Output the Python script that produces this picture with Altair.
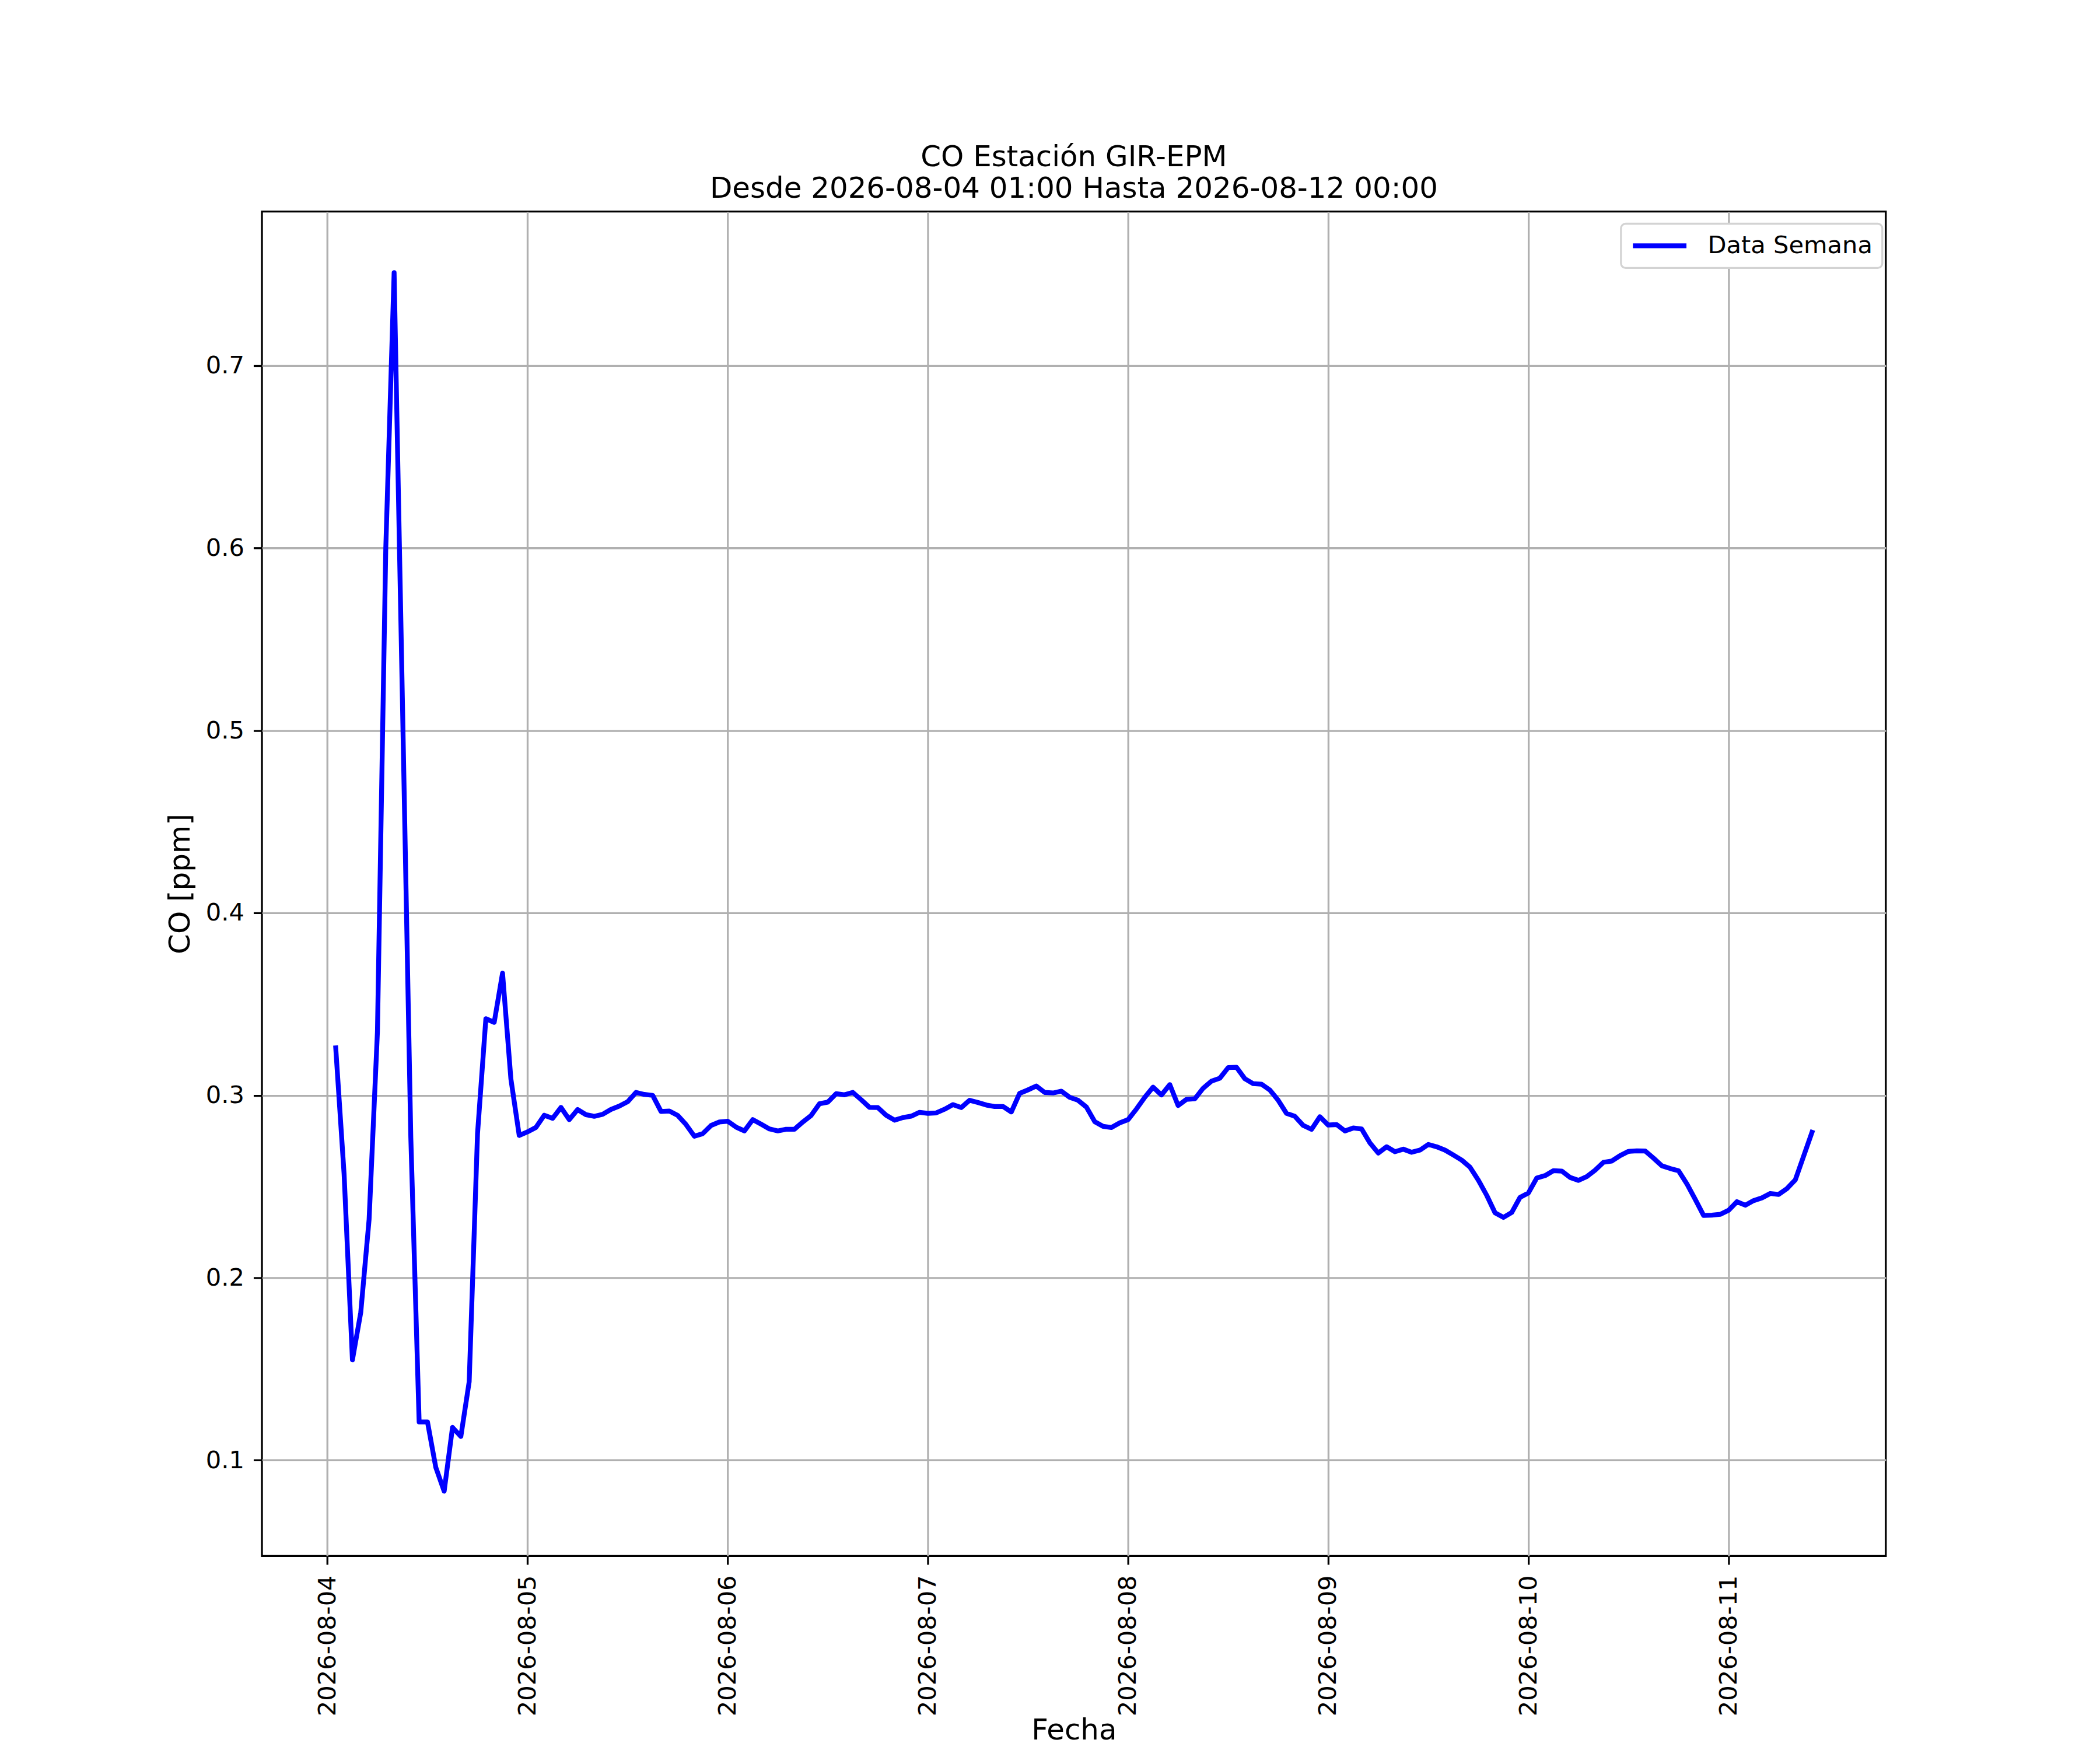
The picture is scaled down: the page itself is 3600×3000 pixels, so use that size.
import altair as alt
import pandas as pd

# Hourly CO values (ppm), 2026-08-04 01:00 .. 2026-08-11 10:00
co_0804 = [0.326, 0.257, 0.155, 0.181, 0.232, 0.335, 0.600, 0.751, 0.515, 0.277, 0.121, 0.121,
           0.096, 0.083, 0.118, 0.113, 0.143, 0.279, 0.342, 0.340, 0.367, 0.309, 0.278, 0.280]
co_0805 = [0.2824, 0.2891, 0.2874, 0.2934, 0.2867, 0.2922, 0.2894, 0.2885, 0.2896, 0.2923, 0.2941, 0.2965,
           0.3016, 0.3005, 0.3000, 0.2912, 0.2914, 0.2890, 0.2840, 0.2776, 0.2790, 0.2835, 0.2854, 0.2858]
co_0806 = [0.2826, 0.2805, 0.2867, 0.2842, 0.2816, 0.2805, 0.2814, 0.2814, 0.2854, 0.2890, 0.2954, 0.2963,
           0.3009, 0.3003, 0.3016, 0.2976, 0.2934, 0.2933, 0.2891, 0.2864, 0.2878, 0.2886, 0.2907, 0.2901]
co_0807 = [0.2904, 0.2924, 0.2949, 0.2933, 0.2973, 0.2961, 0.2947, 0.2939, 0.2939, 0.2909, 0.3011, 0.3030,
           0.3051, 0.3016, 0.3013, 0.3023, 0.2989, 0.2973, 0.2936, 0.2856, 0.2830, 0.2824, 0.2849, 0.2867]
co_0808 = [0.2925, 0.2989, 0.3045, 0.3002, 0.3059, 0.2944, 0.2978, 0.2981, 0.3039, 0.3078, 0.3094, 0.3152,
           0.3154, 0.3091, 0.3064, 0.3061, 0.3029, 0.2973, 0.2901, 0.2885, 0.2835, 0.2814, 0.2883, 0.2837]
co_0809 = [0.2840, 0.2805, 0.2821, 0.2816, 0.2739, 0.2684, 0.2718, 0.2691, 0.2705, 0.2688, 0.2700, 0.2731,
           0.2718, 0.2700, 0.2673, 0.2645, 0.2606, 0.2535, 0.2452, 0.2356, 0.2331, 0.2358, 0.2441, 0.2465]
co_0810 = [0.2547, 0.2560, 0.2587, 0.2585, 0.2550, 0.2534, 0.2555, 0.2590, 0.2633, 0.2640, 0.2670, 0.2693,
           0.2696, 0.2695, 0.2656, 0.2614, 0.2599, 0.2587, 0.2515, 0.2430, 0.2342, 0.2343, 0.2348, 0.2370]
co_0811 = [0.2417, 0.2398, 0.2423, 0.2438, 0.2462, 0.2457, 0.2489, 0.2537, 0.2667, 0.2798]

y_ticks = [0.1, 0.2, 0.3, 0.4, 0.5, 0.6, 0.7]
tick_days = [4, 5, 6, 7, 8, 9, 10, 11]
title_lines = ["CO Estación GIR-EPM", "Desde 2026-08-04 01:00 Hasta 2026-08-12 00:00"]
series_name = "Data Semana"

values = co_0804 + co_0805 + co_0806 + co_0807 + co_0808 + co_0809 + co_0810 + co_0811
times = pd.date_range("2026-08-04 01:00", periods=len(values), freq="h")
df = pd.DataFrame({
    "Fecha": times.strftime("%Y-%m-%dT%H:%M:%SZ"),
    "CO": values,
    "serie": series_name,
})

FONT = "DejaVu Sans"

chart = alt.Chart(df).mark_line(
    strokeWidth=8.3, strokeJoin="round", strokeCap="square"
).encode(
    x=alt.X(
        "Fecha:T",
        scale=alt.Scale(
            type="utc",
            domain=[
                alt.DateTime(year=2026, month=8, date=3, hours=16, minutes=9, utc=True),
                alt.DateTime(year=2026, month=8, date=11, hours=18, minutes=51, utc=True),
            ],
        ),
        axis=alt.Axis(
            values=[alt.DateTime(year=2026, month=8, date=d, utc=True) for d in tick_days],
            format="%Y-%m-%d",
            labelAngle=270,
            labelPadding=18,
            labelLimit=0,
            title="Fecha",
            titleY=315,
            titleBaseline="alphabetic",
        ),
    ),
    y=alt.Y(
        "CO:Q",
        scale=alt.Scale(domain=[0.0475, 0.7845], nice=False, zero=False),
        axis=alt.Axis(
            values=y_ticks,
            format=".1f",
            labelPadding=16,
            labelLimit=0,
            title="CO [ppm]",
            titleX=-140,
            titleY=1155,
            titleAngle=270,
            titleBaseline="middle",
            titleAlign="center",
        ),
    ),
    color=alt.Color(
        "serie:N",
        scale=alt.Scale(range=["#0000ff"]),
        legend=alt.Legend(
            title=None,
            orient="none",
            legendX=2335,
            legendY=21,
            symbolType="stroke",
            symbolSize=8464,
            symbolStrokeWidth=8.3,
            labelFontSize=41.7,
            labelFont=FONT,
            labelColor="black",
            labelOffset=32,
            labelLimit=0,
            padding=16,
            clipHeight=44,
            strokeColor="#d3d3d3",
            fillColor="white",
            cornerRadius=8,
        ),
    ),
).properties(
    width=2790,
    height=2310,
    title=alt.TitleParams(text=title_lines),
    autosize=alt.AutoSizeParams(type="none"),
    padding={"left": 442, "top": 352, "right": 360, "bottom": 330},
).configure_view(
    stroke="black", strokeWidth=3.3
).configure_axis(
    grid=True,
    gridColor="#b0b0b0",
    gridWidth=3.3,
    domain=False,
    tickColor="black",
    tickWidth=3.3,
    tickSize=14.6,
    labelFont=FONT,
    labelFontSize=41.7,
    labelColor="black",
    labelOverlap=False,
    labelFlush=False,
    titleFont=FONT,
    titleFontSize=50,
    titleFontWeight="normal",
    titleColor="black",
).configure_legend(
    strokeWidth=3.3
).configure_title(
    font=FONT,
    fontSize=50,
    fontWeight="normal",
    color="black",
    anchor="middle",
    offset=14,
    lineHeight=54,
)

chart.save("out.html", embed_options={"renderer": "svg", "actions": False})
